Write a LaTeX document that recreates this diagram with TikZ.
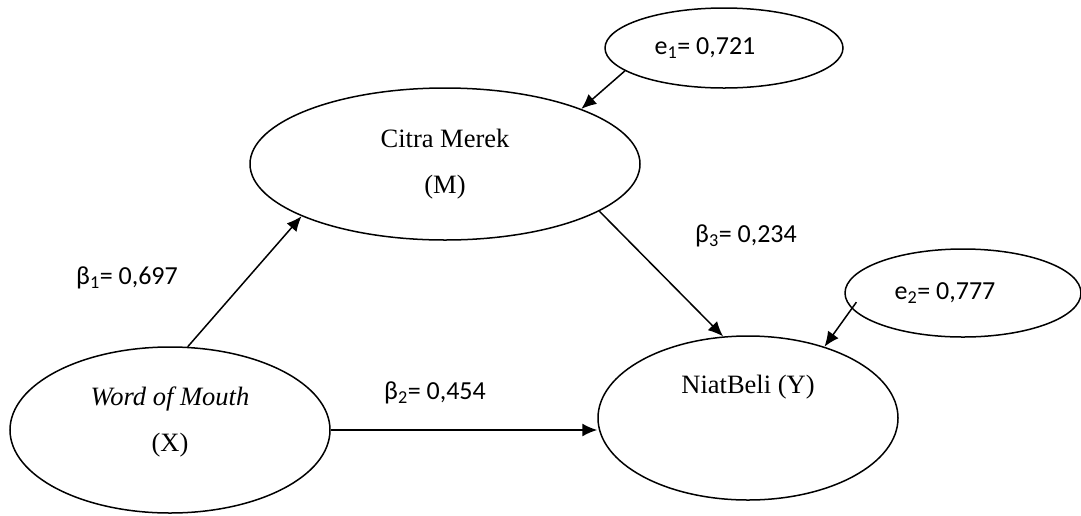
\documentclass[tikz,border=0pt]{standalone}
\usepackage{fontspec}
\setmainfont{Liberation Serif}
\newfontfamily\lblfont{Carlito}
\usetikzlibrary{shapes.geometric, arrows.meta, positioning}

\begin{document}
\begin{tikzpicture}[x=1pt, y=-1pt, line width=1.5pt,
    var/.style={draw, ellipse, inner sep=0pt, align=center, font=\fontsize{26.5}{46}\selectfont},
    err/.style={draw, ellipse, inner sep=0pt, font=\lblfont\fontsize{26}{30}\selectfont},
    coef/.style={inner sep=0pt, font=\lblfont\fontsize{26}{30}\selectfont},
    path/.style={-{Latex[length=15pt, width=13pt]}}]
  \useasboundingbox (0,0) rectangle (1081,515);

  % latent variables
  \node (cm) [var, minimum width=390pt, minimum height=152pt] at (445,164) {Citra Merek\\(M)};
  \node (wom) [var, minimum width=320pt, minimum height=166pt] at (170,430) {\textit{Word of Mouth}\\(X)\\[-24pt]\mbox{}};
  \node (nb) [var, minimum width=300pt, minimum height=164pt] at (748,418) {NiatBeli (Y)\\[22pt]\mbox{}};

  % error terms
  \node (e1) [err, minimum width=238pt, minimum height=80pt] at (724,48) {e\textsubscript{1}= 0,721\hspace*{38pt}};
  \node (e2) [err, minimum width=236pt, minimum height=88pt] at (963,293) {e\textsubscript{2}= 0,777\hspace*{36pt}};

  % coefficients
  \node (b1) [coef] at (127,278) {β\textsubscript{1}= 0,697};
  \node (b2) [coef] at (435,393) {β\textsubscript{2}= 0,454};
  \node (b3) [coef] at (746,236) {β\textsubscript{3}= 0,234};

  \draw [path] (wom.78) -- (cm.200);
  \draw [path] (cm.343) -- (nb.107);
  \draw [path] (wom.east) -- (wom.east -| nb.west);
  \draw [path] (e1.193) -- (cm.22);
  \draw [path, shorten <=-8pt] (e2.188) -- (nb.43);
\end{tikzpicture}
\end{document}
